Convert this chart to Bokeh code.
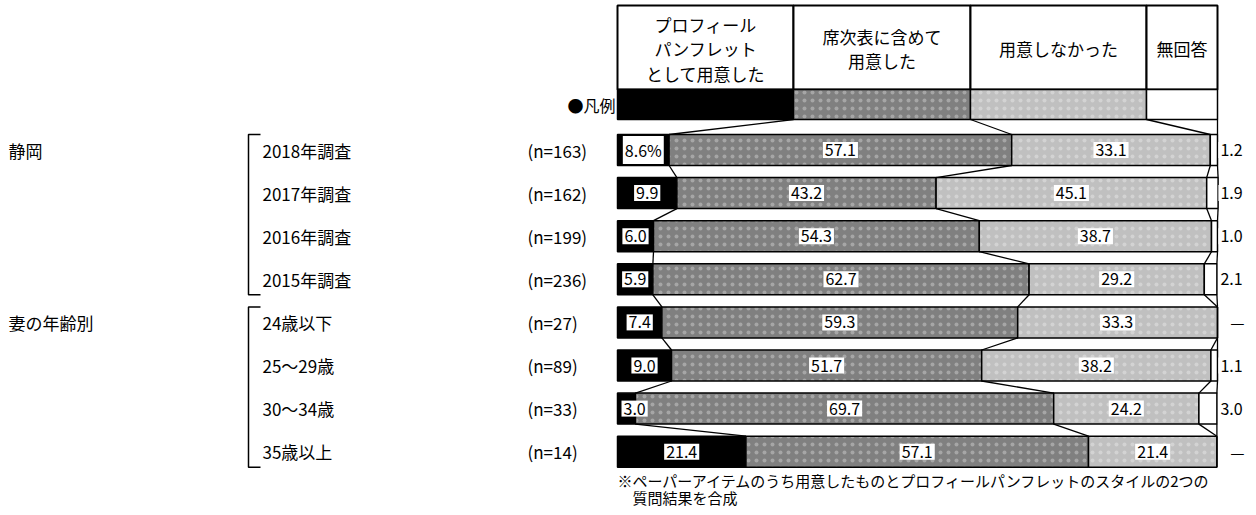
from bokeh.plotting import figure
from bokeh.models import Range1d, ColumnDataSource
from bokeh.core.properties import value
from bokeh.embed import file_html
from bokeh.resources import INLINE

# ---------------- data ----------------
group_names = ["静岡", "妻の年齢別"]
group_sizes = [4, 4]
row_labels = ["2018年調査", "2017年調査", "2016年調査", "2015年調査",
              "24歳以下", "25〜29歳", "30〜34歳", "35歳以上"]
n_values = [163, 162, 199, 236, 27, 89, 33, 14]

profile_pamphlet = [8.6, 9.9, 6.0, 5.9, 7.4, 9.0, 3.0, 21.4]
in_seating_chart = [57.1, 43.2, 54.3, 62.7, 59.3, 51.7, 69.7, 57.1]
not_prepared = [33.1, 45.1, 38.7, 29.2, 33.3, 38.2, 24.2, 21.4]
no_answer = [1.2, 1.9, 1.0, 2.1, 0.0, 1.1, 3.0, 0.0]

series_names = [["プロフィール", "パンフレット", "として用意した"],
                ["席次表に含めて", "用意した"],
                ["用意しなかった"],
                ["無回答"]]
legend_label = "●凡例"
footnote_lines = ["※ペーパーアイテムのうち用意したものとプロフィールパンフレットのスタイルの2つの",
                  "質問結果を合成"]

# ---------------- layout / style ----------------
FONT = value("Noto Sans CJK JP")
W, H = 1248, 513
X0, K = 617.0, 6.0          # page px of 0 %, px per %


def xp(px):
    return (px - X0) / K


fills = ["#000000", "#808080", "#C0C0C0", "#FFFFFF"]
hatches = [None, "dot", "dot", None]
legend_edges = [0, 29.33, 58.83, 88.17, 100]

row_y0, row_step, bar_h = 149.5, 43.1, 31
rows_y = [row_y0 + i * row_step for i in range(len(row_labels))]

p = figure(width=W, height=H, output_backend="svg", toolbar_location=None,
           x_range=Range1d(xp(0), xp(W)), y_range=Range1d(H, 0),
           min_border=0)
p.axis.visible = False
p.grid.visible = False
p.outline_line_color = None
p.background_fill_color = "white"

series = [profile_pamphlet, in_seating_chart, not_prepared, no_answer]

cum = []
for i in range(len(row_labels)):
    edges = [0.0]
    for s in series:
        edges.append(edges[-1] + s[i])
    cum.append(edges)


def seg_style(k):
    kw = dict(fill_color=fills[k], line_color="black", line_width=1.5)
    if hatches[k]:
        kw.update(hatch_pattern=hatches[k], hatch_color="white", hatch_scale=8,
                  hatch_weight=0.2, hatch_alpha=0.3)
    return kw


# ---------------- header ----------------
hdr_top, hdr_mid, hdr_bot = 5, 89, 119
hx, hy, ht = [], [], []
for k in range(4):
    l, r = legend_edges[k], legend_edges[k + 1]
    p.quad(left=[l], right=[r], top=[hdr_top], bottom=[hdr_mid],
           fill_color="white", line_color="black", line_width=2)
    lines = series_names[k]
    for j, line in enumerate(lines):
        hx.append((l + r) / 2)
        hy.append(48 + (j - (len(lines) - 1) / 2) * 24.5)
        ht.append(line)
    p.quad(left=[l], right=[r], top=[hdr_mid], bottom=[hdr_bot], **seg_style(k))
p.text(x=hx, y=hy, text=ht, text_font=FONT, text_font_size="17px", text_align="center",
       text_baseline="middle", text_color="black")

p.text(x=[xp(615)], y=[(hdr_mid + hdr_bot) / 2], text=[legend_label], text_font=FONT,
       text_font_size="16px", text_align="right", text_baseline="middle")

# ---------------- bars ----------------
for k in range(4):
    src = ColumnDataSource(dict(y=rows_y, left=[c[k] for c in cum], right=[c[k + 1] for c in cum]))
    p.hbar(y="y", left="left", right="right", height=bar_h, source=src, **seg_style(k))

# connectors between legend and first bar, and between bars
xs0, ys0, xs1, ys1 = [], [], [], []
for k in range(1, 5):
    xs0.append(legend_edges[k]); ys0.append(hdr_bot)
    xs1.append(cum[0][k]); ys1.append(rows_y[0] - bar_h / 2)
for i in range(len(row_labels) - 1):
    for k in range(1, 5):
        xs0.append(cum[i][k]); ys0.append(rows_y[i] + bar_h / 2)
        xs1.append(cum[i + 1][k]); ys1.append(rows_y[i + 1] - bar_h / 2)
p.segment(x0=xs0, y0=ys0, x1=xs1, y1=ys1, line_color="black", line_width=1.3)

# ---------------- value labels ----------------
lx, ly, lt = [], [], []
for i in range(len(row_labels)):
    for k in range(3):
        v = series[k][i]
        txt = f"{v:.1f}" + ("%" if (i == 0 and k == 0) else "")
        c = (cum[i][k] + cum[i][k + 1]) / 2
        half = (len(txt) * 9 + 6) / 2 / K
        if k == 0:
            c = max(c, half + 0.1)
        lx.append(c); ly.append(rows_y[i]); lt.append(txt)
p.text(x=lx, y=ly, text=lt, text_font=FONT, text_font_size="16px", text_align="center",
       text_baseline="middle", text_color="black", background_fill_color="white",
       padding=2)

rx, ry, rt = [], [], []
for i in range(len(row_labels)):
    v = no_answer[i]
    txt = f"{v:.1f}" if v > 0 else "—"
    c = (cum[i][3] + cum[i][4]) / 2
    rx.append(max(c + 2.2, xp(1231)) if v > 0 else xp(1237))
    ry.append(rows_y[i]); rt.append(txt)
p.text(x=rx, y=ry, text=rt, text_font=FONT, text_font_size="16px", text_align="center",
       text_baseline="middle", text_color="black", background_fill_color="white",
       padding=2)

# ---------------- left labels ----------------
p.text(x=[xp(262)] * len(row_labels), y=rows_y, text=row_labels, text_font=FONT,
       text_font_size="17px", text_align="left", text_baseline="middle")
p.text(x=[xp(527)] * len(row_labels), y=rows_y, text=[f"(n={n})" for n in n_values],
       text_font=FONT, text_font_size="17px", text_align="left", text_baseline="middle")

start = 0
gx, gy = [], []
bx, by = [], []
for g, size in zip(group_names, group_sizes):
    gx.append(xp(8)); gy.append(rows_y[start])
    top = rows_y[start] - bar_h / 2
    bot = rows_y[start + size - 1] + bar_h / 2
    bx.append([xp(260), xp(248), xp(248), xp(260)])
    by.append([top, top, bot, bot])
    start += size
p.text(x=gx, y=gy, text=group_names, text_font=FONT, text_font_size="17px",
       text_align="left", text_baseline="middle")
p.multi_line(xs=bx, ys=by, line_color="black", line_width=1.5)

# ---------------- footnote ----------------
p.text(x=[xp(617), xp(632)], y=[480, 497], text=footnote_lines, text_font=FONT,
       text_font_size="15px", text_align="left", text_baseline="middle")

open("out.html", "w").write(file_html(p, INLINE))
